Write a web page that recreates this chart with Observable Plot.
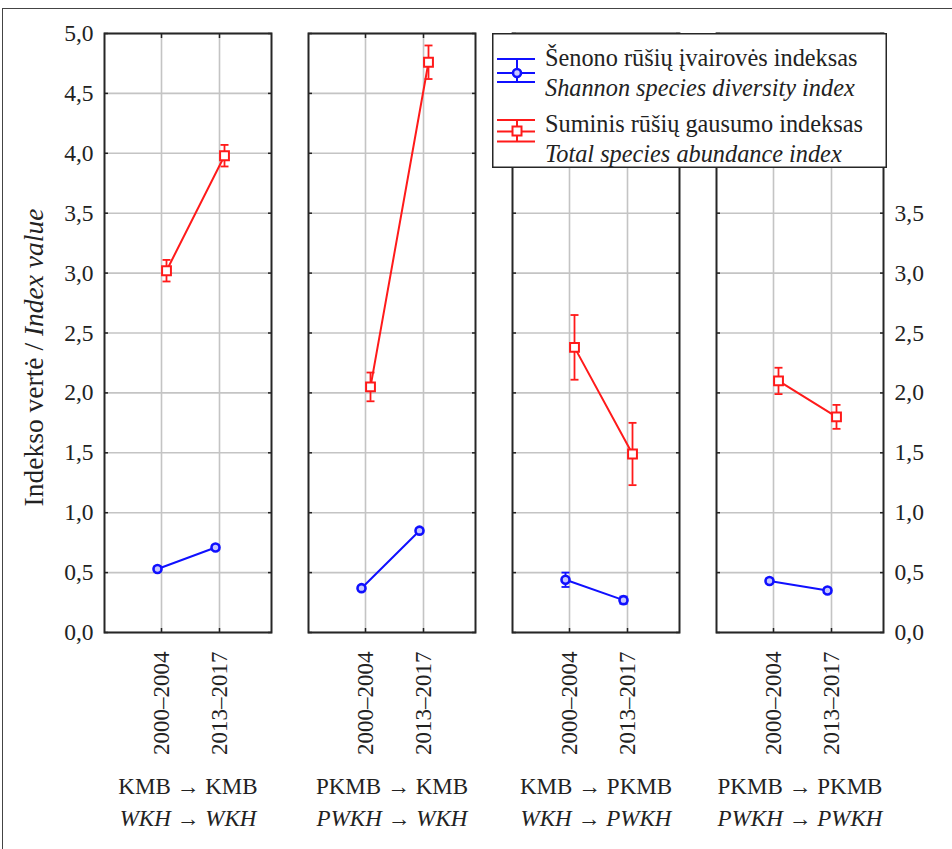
<!DOCTYPE html>
<html><head><meta charset="utf-8">
<script src="https://cdn.jsdelivr.net/npm/d3@7"></script>
<script src="https://cdn.jsdelivr.net/npm/@observablehq/plot@0.6"></script>
<style>
body{margin:0;background:#fff;}
#wrap{position:relative;width:952px;height:849px;overflow:hidden;background:#fff;}
#outer{position:absolute;left:2px;top:8px;width:1000px;height:1000px;border-left:1.5px solid #444;border-top:1.5px solid #444;pointer-events:none;}
#legend{position:absolute;left:492px;top:33px;}
</style></head><body><div id="wrap"><div id="outer"></div></div>
<script>
// ---- data ----
const groupLine1 = ["KMB → KMB", "PKMB → KMB", "KMB → PKMB", "PKMB → PKMB"];
const groupLine2 = ["WKH → WKH", "PWKH → WKH", "WKH → PWKH", "PWKH → PWKH"];
const periods = ["2000–2004", "2013–2017"];
const shannon = [[0.53, 0.71], [0.37, 0.85], [0.44, 0.27], [0.43, 0.35]];
const shannonErr = [[0.02, 0.02], [0.02, 0.02], [0.06, 0.03], [0.02, 0.02]];
const abundance = [[3.02, 3.98], [2.05, 4.76], [2.38, 1.49], [2.10, 1.80]];
const abundanceErr = [[0.09, 0.09], [0.12, 0.14], [0.27, 0.26], [0.11, 0.10]];
const yTicksLeft = [0, 0.5, 1, 1.5, 2, 2.5, 3, 3.5, 4, 4.5, 5];
const yTicksRight = [0, 0.5, 1, 1.5, 2, 2.5, 3, 3.5];
const legendLabels = [
  ["Šenono rūšių įvairovės indeksas", "Shannon species diversity index"],
  ["Suminis rūšių gausumo indeksas", "Total species abundance index"]
];
const axisLabelMain = "Indekso vertė / ";
const axisLabelItalic = "Index value";

// ---- build tables ----
function rowsFor(vals, errs) {
  const out = [];
  vals.forEach((pair, gi) => pair.forEach((v, pi) => out.push({group: groupLine1[gi], period: periods[pi], v, e: errs[gi][pi]})));
  return out;
}
const blueRows = rowsFor(shannon, shannonErr);
const redRows = rowsFor(abundance, abundanceErr);
const groupRows = groupLine1.map((g, i) => ({group: g, l1: g, l2: groupLine2[i]}));

const BLUE = "#1010ff", RED = "#ff1a1a";
const fmt = d => d.toFixed(1).replace(".", ",");
const cap = {draw(ctx) { ctx.moveTo(-4, 0); ctx.lineTo(4, 0); }};
const FONT = "'Liberation Serif', 'Times New Roman', serif";

function seriesMarks(rows, color, dx, symbol) {
  const isSq = symbol === "square";
  return [
    Plot.ruleX(rows, {fx: "group", x: "period", y1: d => d.v - d.e, y2: d => d.v + d.e, dx, stroke: color, strokeWidth: 1.8}),
    Plot.dot(rows, {fx: "group", x: "period", y: d => d.v + d.e, dx, symbol: cap, r: 4, stroke: color, strokeWidth: 1.8}),
    Plot.dot(rows, {fx: "group", x: "period", y: d => d.v - d.e, dx, symbol: cap, r: 4, stroke: color, strokeWidth: 1.8}),
    Plot.line(rows, {fx: "group", x: "period", y: "v", z: "group", dx, stroke: color, strokeWidth: 2}),
    Plot.dot(rows, {fx: "group", x: "period", y: "v", dx, symbol, r: isSq ? 5 : 4, stroke: color, strokeWidth: isSq ? 2 : 2.6, fill: isSq ? "white" : "#c8c8ff"})
  ];
}

const plot = Plot.plot({
  width: 952, height: 849,
  marginLeft: 102, marginRight: 67, marginTop: 33, marginBottom: 217,
  style: {fontFamily: FONT, fontSize: "22px", color: "#222", background: "transparent"},
  fx: {domain: groupLine1, paddingInner: 0.18, paddingOuter: 0, axis: null},
  x: {type: "point", domain: periods, padding: 0.9, insetLeft: 4},
  y: {domain: [0, 5]},
  marks: [
    Plot.gridX({stroke: "#c4c4c4", strokeOpacity: 1, strokeWidth: 1.6}),
    Plot.gridY(yTicksLeft, {stroke: "#c4c4c4", strokeOpacity: 1, strokeWidth: 1.6}),
    Plot.axisY(yTicksLeft, {anchor: "left", facetAnchor: null, tickSize: -4, text: null, label: null, strokeWidth: 1.5}),
    Plot.axisY(yTicksLeft, {anchor: "right", facetAnchor: null, tickSize: -4, text: null, label: null, strokeWidth: 1.5}),
    Plot.axisX({anchor: "bottom", tickSize: -4, text: null, label: null, strokeWidth: 1.5}),
    Plot.axisX({anchor: "top", facetAnchor: null, tickSize: -4, text: null, label: null, strokeWidth: 1.5}),
    Plot.frame({stroke: "#262626", strokeWidth: 2}),
    Plot.axisY(yTicksLeft, {anchor: "left", tickSize: 0, tickPadding: 11, tickFormat: fmt, label: null, fontSize: 23.5}),
    Plot.axisY(yTicksRight, {anchor: "right", tickSize: 0, tickPadding: 11, tickFormat: fmt, label: null, fontSize: 23.5}),
    Plot.axisX({anchor: "bottom", tickRotate: -90, tickSize: 0, tickPadding: 19, label: null, fontSize: 23}),
    ...seriesMarks(blueRows, BLUE, -4, "circle"),
    ...seriesMarks(redRows, RED, 5, "square"),
    Plot.text(groupRows, {fx: "group", text: "l1", frameAnchor: "bottom", dy: 161, fontSize: 23}),
    Plot.text(groupRows, {fx: "group", text: "l2", frameAnchor: "bottom", dy: 193, fontSize: 23, fontStyle: "italic"})
  ]
});
document.getElementById("wrap").prepend(plot);

// y axis title with mixed styles
const ys = plot.scale("y");
const yc = (ys.apply(0) + ys.apply(5)) / 2 + 25;
const t = d3.select(plot).append("text")
  .attr("transform", `translate(33,${yc}) rotate(-90)`)
  .attr("text-anchor", "middle").attr("dominant-baseline", "central")
  .attr("font-family", FONT).attr("font-size", 27.5).attr("fill", "#222");
t.append("tspan").text(axisLabelMain);
t.append("tspan").attr("font-style", "italic").text(axisLabelItalic);

// legend box
const L = d3.select("#wrap").append("svg").attr("id", "legend").attr("width", 395).attr("height", 135);
L.append("rect").attr("x", 0.75).attr("y", 0.75).attr("width", 393.5).attr("height", 133.5)
  .attr("fill", "white").attr("stroke", "#262626").attr("stroke-width", 1.5);
const entries = [
  {color: BLUE, sym: "circle", lines: [26, 40, 49], mid: 40, ty: [24, 54]},
  {color: RED, sym: "square", lines: [87, 98.5, 108.5], mid: 98, ty: [90, 120]}
];
entries.forEach((en, i) => {
  const g = L.append("g").attr("stroke", en.color).attr("stroke-width", 2).attr("fill", "none");
  en.lines.forEach(y => g.append("line").attr("x1", 5).attr("x2", 43).attr("y1", y).attr("y2", y));
  g.append("line").attr("x1", 25).attr("x2", 25).attr("y1", en.lines[0]).attr("y2", en.lines[2]);
  if (en.sym === "circle") g.append("circle").attr("cx", 25).attr("cy", en.mid).attr("r", 4).attr("stroke-width", 2.6).attr("fill", "#c8c8ff");
  else g.append("rect").attr("x", 20.5).attr("y", en.mid - 4.5).attr("width", 9).attr("height", 9).attr("fill", "white");
  L.append("text").attr("x", 53).attr("y", en.ty[0]).attr("dominant-baseline", "central")
    .attr("font-family", FONT).attr("font-size", 24.3).attr("fill", "#222").text(legendLabels[i][0]);
  L.append("text").attr("x", 53).attr("y", en.ty[1]).attr("dominant-baseline", "central")
    .attr("font-family", FONT).attr("font-size", 24.3).attr("font-style", "italic").attr("fill", "#222").text(legendLabels[i][1]);
});
</script></body></html>
